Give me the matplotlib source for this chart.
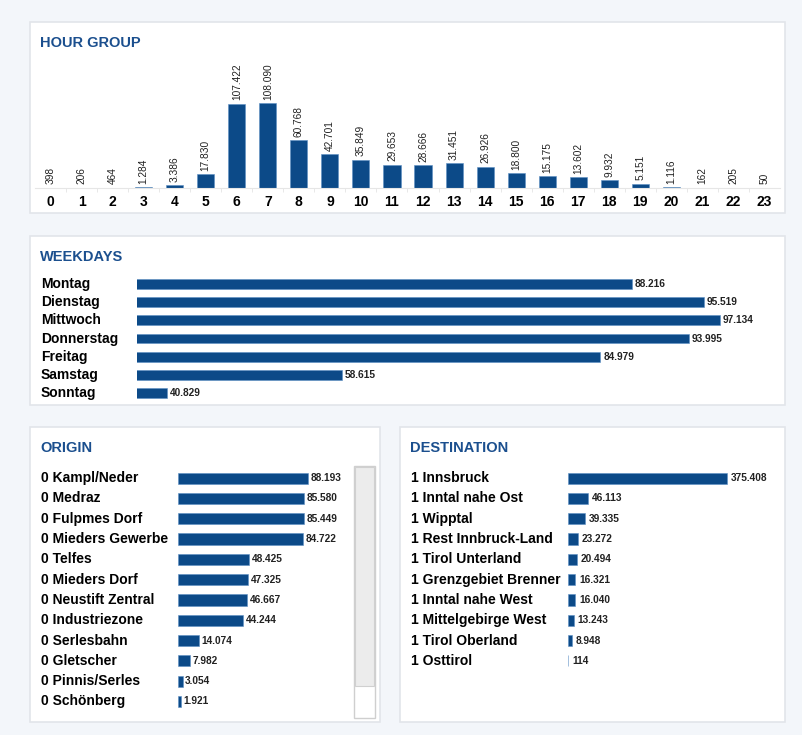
import matplotlib
matplotlib.use("Agg")
import matplotlib.pyplot as plt
from matplotlib.patches import Rectangle

plt.rcParams['font.family'] = ['Liberation Sans', 'DejaVu Sans']

hours = list(range(24))
hour_counts = [398, 206, 464, 1284, 3386, 17830, 107422, 108090, 60768, 42701,
               35849, 29653, 28666, 31451, 26926, 18800, 15175, 13602, 9932,
               5151, 1116, 162, 205, 50]

weekdays = ['Montag', 'Dienstag', 'Mittwoch', 'Donnerstag', 'Freitag', 'Samstag', 'Sonntag']
weekday_counts = [88216, 95519, 97134, 93995, 84979, 58615, 40829]

origins = ['0 Kampl/Neder', '0 Medraz', '0 Fulpmes Dorf', '0 Mieders Gewerbe', '0 Telfes',
           '0 Mieders Dorf', '0 Neustift Zentral', '0 Industriezone', '0 Serlesbahn',
           '0 Gletscher', '0 Pinnis/Serles', '0 Schönberg']
origin_counts = [88193, 85580, 85449, 84722, 48425, 47325, 46667, 44244, 14074, 7982, 3054, 1921]

destinations = ['1 Innsbruck', '1 Inntal nahe Ost', '1 Wipptal', '1 Rest Innbruck-Land',
                '1 Tirol Unterland', '1 Grenzgebiet Brenner', '1 Inntal nahe West',
                '1 Mittelgebirge West', '1 Tirol Oberland', '1 Osttirol']
dest_counts = [375408, 46113, 39335, 23272, 20494, 16321, 16040, 13243, 8948, 114]

W, H = 802, 735
BAR = '#0c4a88'
TITLE = '#1b4f8e'


def fmt(v):
    return f'{v:,}'.replace(',', '.')


def box(x0, y0, x1, y1):
    # pixel box -> figure fraction rect
    return [x0 / W, 1 - y1 / H, (x1 - x0) / W, (y1 - y0) / H]


def panel(fig, x0, y0, x1, y1, title):
    fig.patches.append(Rectangle((x0 / W, 1 - y1 / H), (x1 - x0) / W, (y1 - y0) / H,
                                 transform=fig.transFigure, facecolor='white',
                                 edgecolor='#e2e5ea', linewidth=1.2, zorder=-5))
    fig.text((x0 + 10) / W, 1 - (y0 + 21) / H, title, color=TITLE, fontsize=10.5,
             fontweight='bold', va='center', ha='left')


def add_ax(fig, rect):
    ax = fig.add_axes(rect, zorder=2)
    ax.set_facecolor('none')
    for s in ax.spines.values():
        s.set_visible(False)
    return ax


def hbars(ax, names, counts, label_x, xlim, pad):
    ys = list(range(len(names)))
    ax.barh(ys, counts, height=0.55, color=BAR, edgecolor='#5d8fc4', linewidth=0.4)
    ax.set_ylim(len(names) - 0.5, -0.5)
    ax.set_xlim(*xlim)
    ax.set_xticks([])
    ax.set_yticks([])
    for i, (name, v) in enumerate(zip(names, counts)):
        ax.annotate(fmt(v), (v, i), xytext=(pad, 0), textcoords='offset points',
                    ha='left', va='center', fontsize=7.3, fontweight='bold', color='#222222')
        ax.annotate(name, (label_x / W, i), xycoords=('figure fraction', 'data'),
                    ha='left', va='center', fontsize=10, fontweight='bold',
                    color='black', annotation_clip=False)


fig = plt.figure(figsize=(W / 100, H / 100), dpi=100)
fig.patch.set_facecolor('#f3f6fa')

# HOUR GROUP
panel(fig, 30, 22, 785, 213, 'HOUR GROUP')
ax = add_ax(fig, box(35, 60, 780, 188))
ax.bar(hours, hour_counts, width=0.55, color=BAR, edgecolor='#5d8fc4', linewidth=0.4)
ax.set_xlim(-0.5, 23.5)
ax.set_ylim(0, 108090 * 128 / 85)
ax.set_yticks([])
ax.set_xticks(hours)
ax.set_xticklabels([str(h) for h in hours], fontsize=10, fontweight='bold')
ax.tick_params(axis='x', length=0, pad=5)
ax.set_xticks([h + 0.5 for h in hours[:-1]], minor=True)
ax.tick_params(axis='x', which='minor', length=3, color='#e4e4e4')
ax.spines['bottom'].set_visible(True)
ax.spines['bottom'].set_color('#e6e6e6')
for h, v in zip(hours, hour_counts):
    ax.annotate(fmt(v), (h, v), xytext=(0, 2.5), textcoords='offset points',
                rotation=90, ha='center', va='bottom', fontsize=7.3, color='#222222')

# WEEKDAYS (value axis does not start at zero)
panel(fig, 30, 236, 785, 405, 'WEEKDAYS')
ax = add_ax(fig, box(137, 275, 780, 402))
hbars(ax, weekdays, weekday_counts, 41, (37780, 103260), 2)

# ORIGIN
panel(fig, 30, 427, 380, 722, 'ORIGIN')
ax = add_ax(fig, box(178, 468, 350, 468 + 20.3 * 12))
hbars(ax, origins, origin_counts, 41, (0, 88193 * 172 / 130), 2)
# scrollbar
fig.patches.append(Rectangle((354 / W, 1 - 718 / H), 21 / W, 252 / H, transform=fig.transFigure,
                             facecolor='white', edgecolor='#cfcfcf', linewidth=1, zorder=1))
fig.patches.append(Rectangle((355 / W, 1 - 686 / H), 19 / W, 219 / H, transform=fig.transFigure,
                             facecolor='#ececec', edgecolor='#d0d0d0', linewidth=0.8, zorder=1))

# DESTINATION
panel(fig, 400, 427, 785, 722, 'DESTINATION')
ax = add_ax(fig, box(568, 468, 780, 468 + 20.3 * 10))
hbars(ax, destinations, dest_counts, 411, (0, 375408 * 212 / 159), 3)

fig.savefig('out.png', dpi=100)
